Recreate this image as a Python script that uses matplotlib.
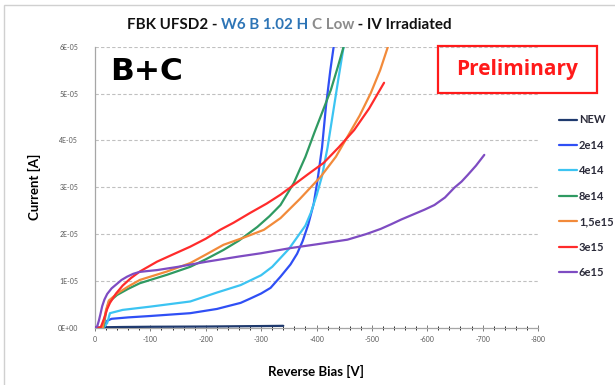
import matplotlib
matplotlib.use("Agg")
import matplotlib.pyplot as plt
from matplotlib.patches import Rectangle
from matplotlib.ticker import FixedLocator, FuncFormatter

plt.rcParams['font.family'] = ['Lato', 'DejaVu Sans']
plt.rcParams['axes.unicode_minus'] = False

# IV curves, bias in V, current in uA
v_new = [0, -10, -20, -50, -100, -200, -300, -340]
i_new = [0, 0.05, 0.1, 0.15, 0.2, 0.25, 0.35, 0.4]

v_2e14 = [0, -10, -18, -22, -30, -60, -100, -172, -220, -263, -280, -300, -317,
          -335, -353, -365, -375, -385, -395, -402, -410, -417, -425, -431]
i_2e14 = [0, 0, 0.3, 1.5, 1.9, 2.2, 2.5, 3.1, 4.0, 5.3, 6.2, 7.3, 8.5,
          10.9, 13.5, 15.8, 18.5, 22.0, 26.5, 31.6, 38.5, 47.2, 55.0, 60.0]

v_4e14 = [0, -15, -22, -27, -50, -100, -172, -220, -263, -300, -320, -335, -350,
          -365, -380, -390, -400, -410, -420, -430, -440, -449]
i_4e14 = [0, 0, 1.0, 3.1, 3.8, 4.5, 5.6, 7.5, 9.1, 11.2, 13.0, 14.9, 16.8,
          19.3, 21.8, 24.6, 28.2, 32.4, 38.5, 46.0, 53.5, 60.0]

v_8e14 = [0, -15, -18, -20, -25, -40, -60, -81, -130, -172, -200, -232, -260,
          -293, -315, -335, -359, -380, -396, -412, -426, -438, -449]
i_8e14 = [0, 0, 2.0, 3.5, 5.5, 7.0, 8.3, 9.5, 11.3, 13.0, 14.6, 16.6, 18.6,
          21.5, 23.8, 26.2, 30.9, 36.5, 41.6, 46.5, 50.8, 55.5, 60.0]

v_15e15 = [0, -14, -17, -20, -25, -40, -60, -81, -130, -172, -200, -232, -270,
           -305, -335, -370, -408, -435, -456, -478, -498, -515, -529]
i_15e15 = [0, 0, 2.0, 3.8, 5.8, 7.3, 8.8, 10.2, 12.0, 13.8, 15.6, 17.7, 19.3,
           20.9, 23.4, 27.5, 32.3, 36.5, 40.8, 45.3, 50.1, 55.0, 60.0]

v_3e15 = [0, -10, -14, -18, -22, -27, -38, -50, -65, -81, -112, -140, -172, -200,
          -226, -250, -280, -310, -335, -359, -385, -413, -440, -468, -495, -522]
i_3e15 = [0, 0, 1.2, 2.5, 4.0, 5.3, 7.3, 9.0, 10.6, 12.0, 14.1, 15.6, 17.3, 19.0,
          20.9, 22.4, 24.5, 26.5, 28.4, 30.5, 32.8, 35.2, 38.5, 42.2, 46.8, 52.3]

v_6e15 = [0, -4, -7, -10, -13, -17, -22, -30, -39, -48, -58, -69, -80, -95, -112,
          -150, -202, -260, -300, -353, -400, -456, -490, -516, -535, -553, -575,
          -595, -613, -632, -649, -662, -673, -688, -703]
i_6e15 = [0, 0.3, 1.5, 3.0, 4.6, 6.0, 7.2, 8.4, 9.3, 10.2, 10.9, 11.5, 11.9, 12.1, 12.3,
          13.0, 14.1, 15.2, 15.9, 17.0, 17.8, 18.8, 20.0, 21.1, 22.1, 23.1, 24.2,
          25.2, 26.2, 27.8, 29.9, 31.2, 32.6, 34.6, 36.9]

labels = ['NEW', '2e14', '4e14', '8e14', '1,5e15', '3e15', '6e15']
colors = ['#1f3a6e', '#2f4ff5', '#3cc4f2', '#2f9a62', '#f28a3a', '#ff2b2b', '#7e4cc2']
volts = [v_new, v_2e14, v_4e14, v_8e14, v_15e15, v_3e15, v_6e15]
currents = [i_new, i_2e14, i_4e14, i_8e14, i_15e15, i_3e15, i_6e15]

W, H = 615, 385
fig = plt.figure(figsize=(W / 100, H / 100), dpi=100)
ax = fig.add_axes([95 / W, 1 - 327.7 / H, 443 / W, (327.7 - 46.7) / H])

for v, i, c, lab in zip(volts, currents, colors, labels):
    ax.plot(v, [x * 1e-6 for x in i], color=c, lw=1.6, label=lab,
            solid_capstyle='round', solid_joinstyle='round', zorder=3)

ax.set_xlim(0, -800)
ax.set_ylim(0, 6e-5)
ax.xaxis.set_major_locator(FixedLocator(range(0, -801, -100)))
ax.xaxis.set_minor_locator(FixedLocator(range(0, -801, -20)))
ax.yaxis.set_major_locator(FixedLocator([k * 1e-5 for k in range(7)]))
ax.xaxis.set_major_formatter(FuncFormatter(lambda x, p: '%d' % x))
ax.yaxis.set_major_formatter(FuncFormatter(lambda y, p: '{:.0E}'.format(y)))
ax.tick_params(axis='both', labelsize=5, colors='#7a7a7a', labelcolor='#595959')
ax.tick_params(axis='x', which='major', direction='inout', length=4, width=0.7, pad=4)
ax.tick_params(axis='x', which='minor', direction='inout', length=2.5, width=0.6)
ax.tick_params(axis='y', which='major', length=0, pad=12)

for s in ['top', 'right']:
    ax.spines[s].set_visible(False)
for s in ['left', 'bottom']:
    ax.spines[s].set_color('#a6a6a6')
    ax.spines[s].set_linewidth(0.9)
ax.grid(axis='y', color='#c0c0c0', ls=(0, (3, 2)), lw=0.8)
ax.set_axisbelow(True)

ax.set_ylabel('Current [A]', fontsize=9.5, fontweight='bold', labelpad=12)
ax.set_xlabel('Reverse Bias [V]', fontsize=9.5, fontweight='bold', labelpad=16)

# multi-coloured title
pieces = [('FBK UFSD2 - ', '#111111'), ('W6 B 1.02 H ', '#2e75b6'),
          ('C Low', '#8c8c8c'), (' - IV Irradiated', '#111111')]
fig.canvas.draw()
renderer = fig.canvas.get_renderer()
x0 = 127 / W
for txt, col in pieces:
    t = fig.text(x0, 1 - 25 / H, txt, color=col, fontsize=10.9, fontweight='bold',
                 ha='left', va='center')
    bb = t.get_window_extent(renderer)
    x0 += bb.width / W

fig.text(110 / W, 1 - 72 / H, 'B+C', fontsize=22.5, fontweight='bold',
         family='DejaVu Sans', ha='left', va='center', color='black')

fig.patches.append(Rectangle((438 / W, 1 - 93 / H), 159 / W, 47 / H,
                             transform=fig.transFigure, fill=False,
                             edgecolor='#ff1a1a', lw=1.6))
fig.text(517 / W, 1 - 70 / H, 'Preliminary', fontsize=15, fontweight='bold',
         family='Open Sans', color='#ff1a1a', ha='center', va='center')

# outer chart frame
fig.patches.append(Rectangle((4 / W, -0.1), 1.2, 1 - 5 / H + 0.1,
                             transform=fig.transFigure, fill=False,
                             edgecolor='#d0d0d0', lw=1.0))

fig.legend(loc='upper left', bbox_to_anchor=(555 / W, 1 - 110 / H), frameon=False,
           handlelength=1.6, handletextpad=0.15, labelspacing=1.3,
           borderaxespad=0, prop={'weight': 'bold', 'size': 8})
for t in fig.legends[0].get_texts():
    t.set_color('#2b2b3a')

fig.savefig('out.png', dpi=100)
